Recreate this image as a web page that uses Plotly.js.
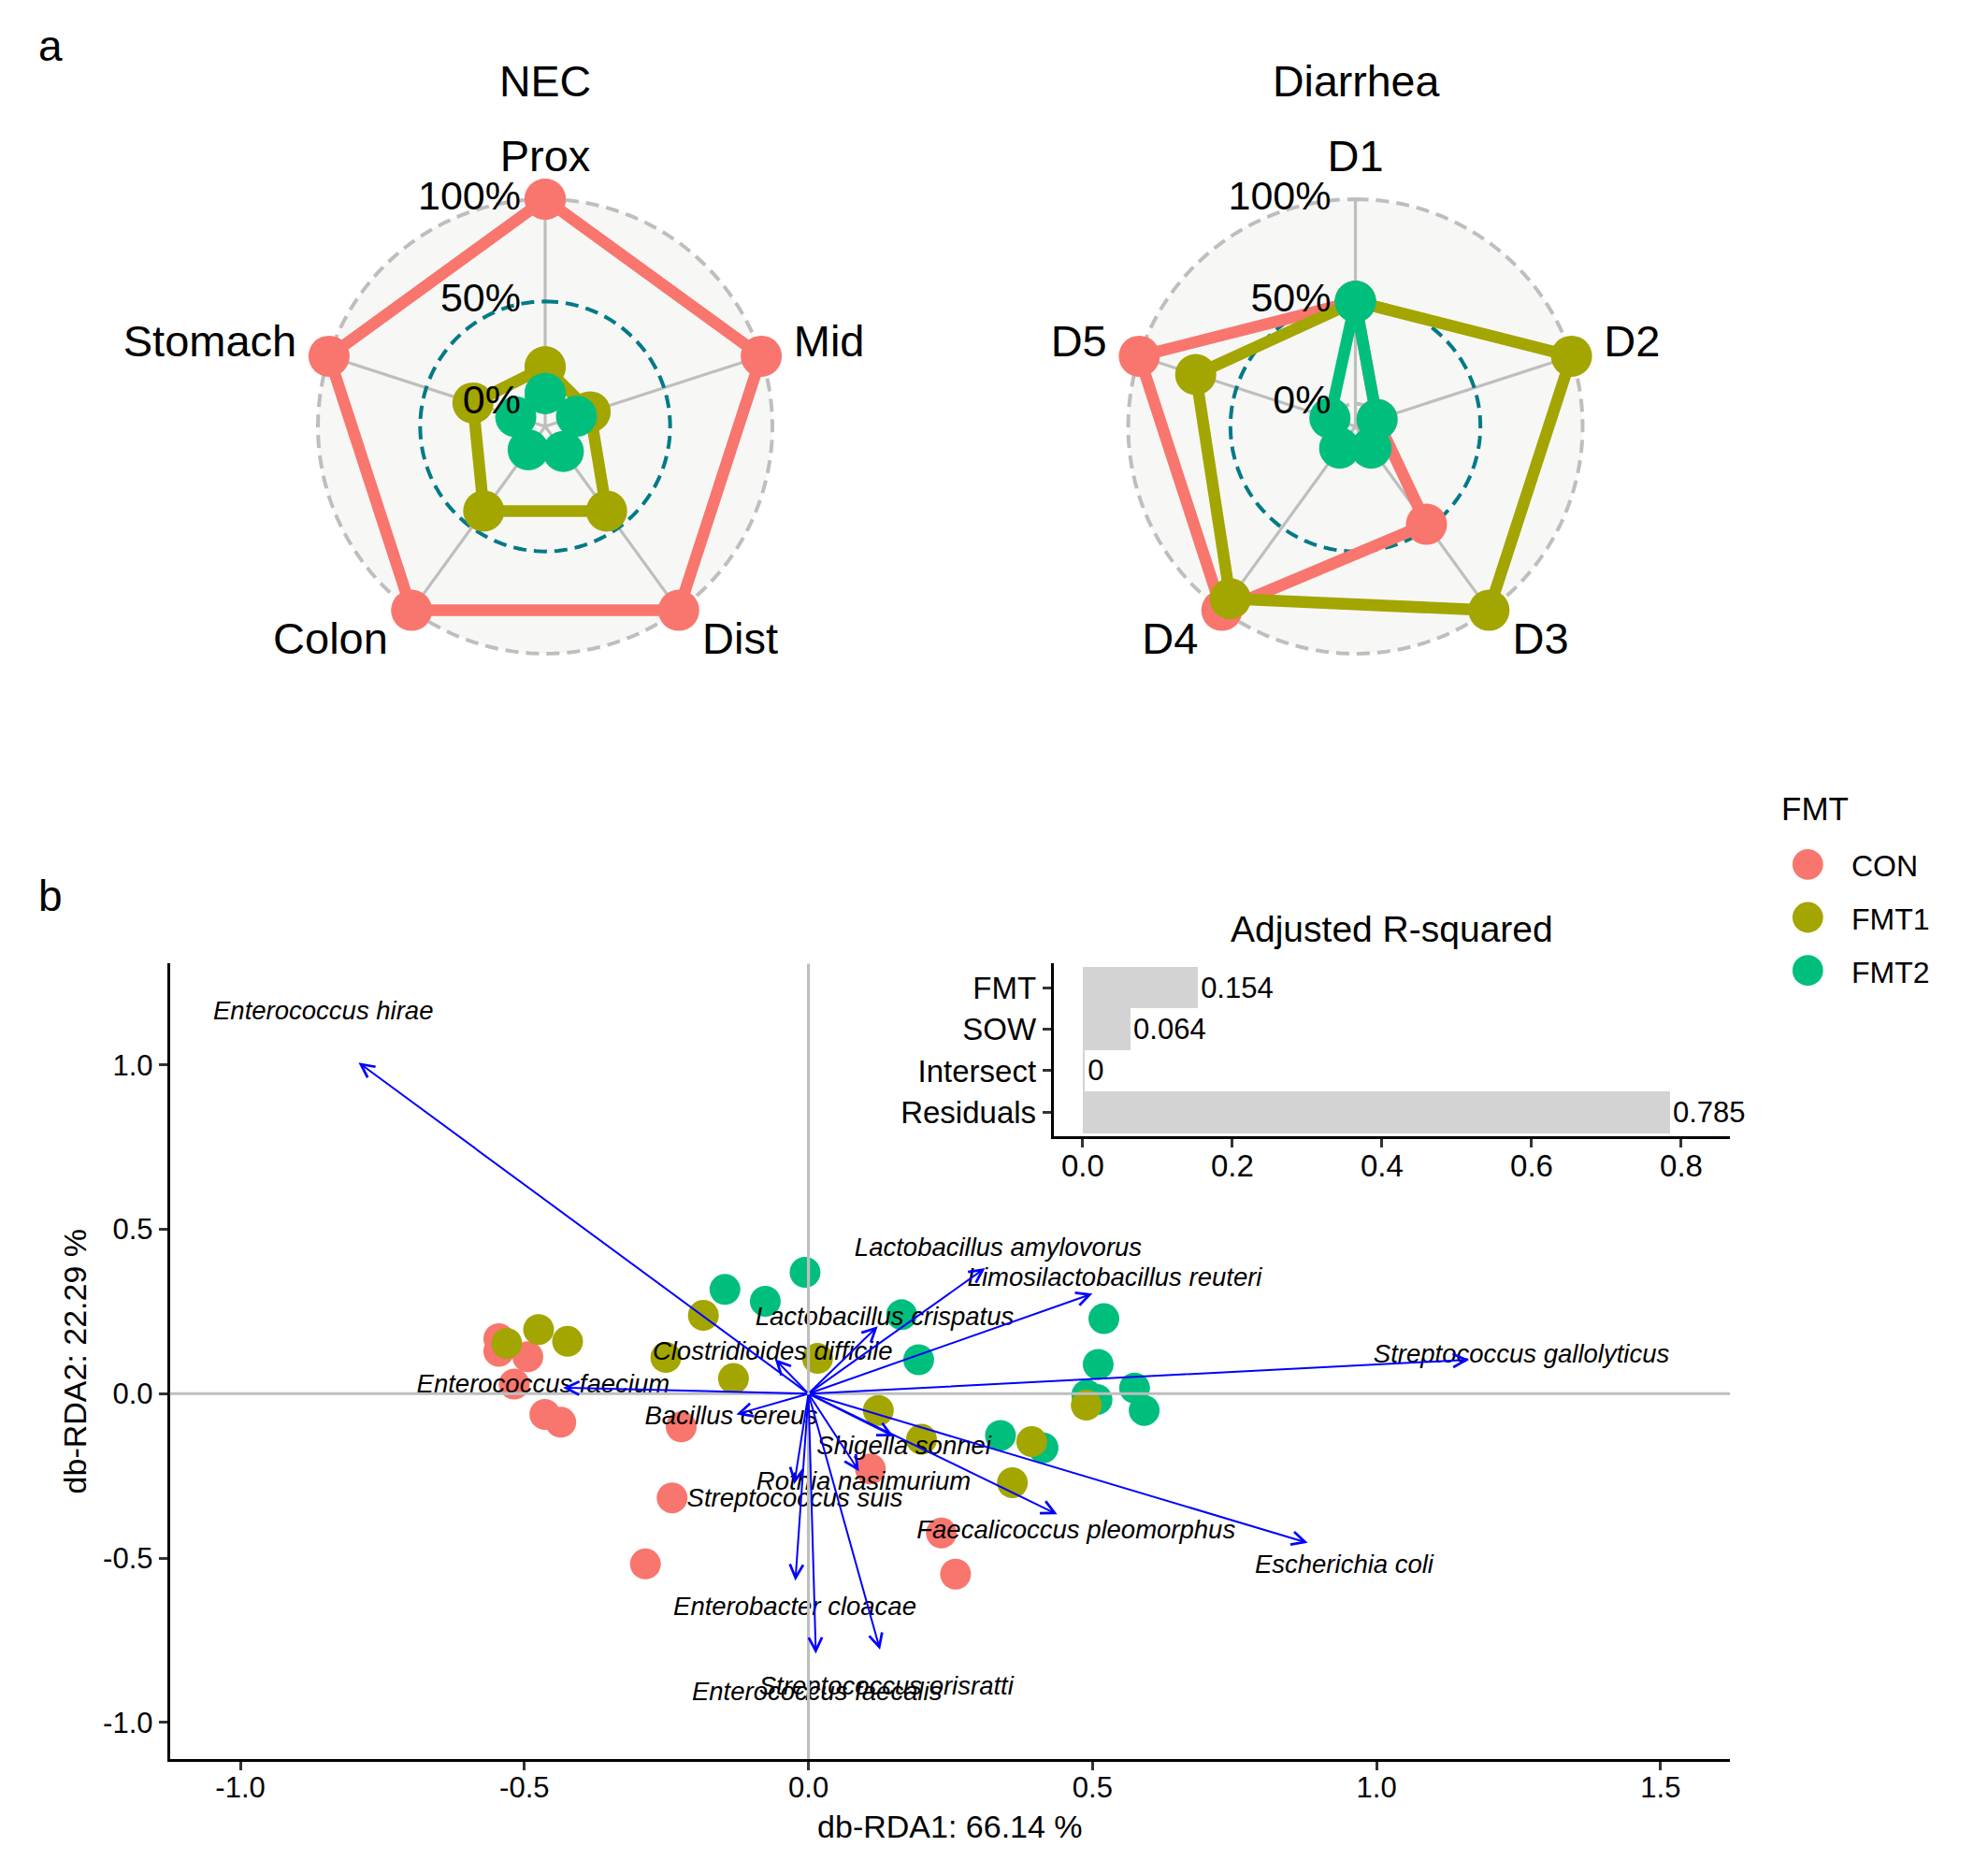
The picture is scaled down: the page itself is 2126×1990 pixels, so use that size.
<!DOCTYPE html>
<html>
<head>
<meta charset="utf-8">
<script src="https://cdn.plot.ly/plotly-3.0.1.min.js"></script>
<style>html,body{margin:0;padding:0;background:#fff;}</style>
</head>
<body>
<div id="chart" style="width:2126px;height:1990px;"></div>
<script>
// ---------------- DATA ----------------
const groups = ['CON', 'FMT1', 'FMT2'];
const groupColors = ['#F8766D', '#A3A500', '#00BF7D'];

// Radar: NEC
const necAxes = ['Prox', 'Mid', 'Dist', 'Colon', 'Stomach'];
const necCON  = [1.00, 1.00, 1.00, 1.00, 1.00];
const necFMT1 = [0.18, 0.12, 0.40, 0.40, 0.26];
const necFMT2 = [0.05, 0.05, 0.04, 0.03, 0.04];

// Radar: Diarrhea
const diaAxes = ['D1', 'D2', 'D3', 'D4', 'D5'];
const diaCON  = [0.50, 0.00, 0.48, 1.00, 1.00];
const diaFMT1 = [0.50, 1.00, 1.00, 0.93, 0.71];
const diaFMT2 = [0.50, 0.00, 0.02, 0.02, 0.02];

const gridLevels = [0, 0.5, 1];
const gridLabels = ['0%', '50%', '100%'];

// db-RDA sample scores
const conX  = [-0.545, -0.545, -0.494, -0.518, -0.464, -0.436, -0.224, -0.240, -0.287, 0.109, 0.234, 0.259];
const conY  = [ 0.167,  0.129,  0.112,  0.029, -0.063, -0.087, -0.101, -0.317, -0.518, -0.229, -0.424, -0.549];
const fmt1X = [-0.531, -0.475, -0.424, -0.185, -0.251, -0.132, 0.016, 0.123, 0.199, 0.393, 0.359, 0.489];
const fmt1Y = [ 0.153,  0.195,  0.159,  0.238,  0.110,  0.046, 0.107, -0.051, -0.139, -0.146, -0.271, -0.035];
const fmt2X = [-0.006, -0.147, -0.076, 0.164, 0.194, 0.520, 0.510, 0.574, 0.591, 0.490, 0.508, 0.338, 0.413];
const fmt2Y = [ 0.369,  0.317,  0.281, 0.240, 0.103, 0.228, 0.089, 0.017, -0.051, -0.004, -0.018, -0.127, -0.165];

// species vectors (arrow tips) and label positions
const species = ['Enterococcus hirae', 'Enterococcus faecium', 'Bacillus cereus', 'Clostridioides difficile',
  'Lactobacillus crispatus', 'Lactobacillus amylovorus', 'Limosilactobacillus reuteri', 'Streptococcus gallolyticus',
  'Escherichia coli', 'Faecalicoccus pleomorphus', 'Shigella sonnei', 'Rothia nasimurium',
  'Streptococcus suis', 'Enterobacter cloacae', 'Enterococcus faecalis', 'Streptococcus orisratti'];
const vecX = [-0.792, -0.432, -0.127, -0.059, 0.122, 0.311, 0.500, 1.163, 0.879, 0.438, 0.150, 0.089, -0.025, -0.023, 0.013, 0.126];
const vecY = [ 1.007,  0.018, -0.063,  0.105, 0.205, 0.382, 0.304, 0.103, -0.454, -0.367, -0.130, -0.236, -0.275, -0.569, -0.791, -0.779];
const labX = [-0.854, -0.467, -0.136, -0.063, 0.134, 0.334, 0.539, 1.255, 0.943, 0.471, 0.168, 0.097, -0.024, -0.024, 0.015, 0.137];
const labY = [ 1.158,  0.023, -0.073,  0.122, 0.228, 0.437, 0.347, 0.114, -0.526, -0.421, -0.165, -0.274, -0.324, -0.655, -0.914, -0.895];

const rdaXTicks = [-1, -0.5, 0, 0.5, 1, 1.5];
const rdaXTickText = ['-1.0', '-0.5', '0.0', '0.5', '1.0', '1.5'];
const rdaYTicks = [-1, -0.5, 0, 0.5, 1];
const rdaYTickText = ['-1.0', '-0.5', '0.0', '0.5', '1.0'];
const rdaXTitle = 'db-RDA1: 66.14 %';
const rdaYTitle = 'db-RDA2: 22.29 %';

// Adjusted R-squared inset
const r2Terms  = ['FMT', 'SOW', 'Intersect', 'Residuals'];
const r2Values = [0.154, 0.064, 0.003, 0.785];
const r2Labels = ['0.154', '0.064', '0', '0.785'];
const r2Ticks = [0, 0.2, 0.4, 0.6, 0.8];
const r2TickText = ['0.0', '0.2', '0.4', '0.6', '0.8'];

// ---------------- LAYOUT HELPERS ----------------
const W = 2126, H = 1990;
const FONT = 'Liberation Sans, Arial, Helvetica, sans-serif';
const px = x => x / W;
const py = y => 1 - y / H;

const radarR = 243;                  // pixel radius of the 100% circle
const radarCY = 456;
const necCX = 583, diaCX = 1449.5;
const centre = -1 / 9;               // ggradar centre offset
const rMax = 1.3;                    // extra room for the axis labels
const labelR = 1.15 * (1 - centre) + centre;
const polarPx = radarR * (rMax - centre) / (1 - centre);

function polarCfg(cx) {
  return {
    domain: {x: [px(cx - polarPx), px(cx + polarPx)], y: [py(radarCY + polarPx), py(radarCY - polarPx)]},
    bgcolor: 'rgba(0,0,0,0)',
    radialaxis: {range: [centre, rMax], showline: false, showticklabels: false, showgrid: false, ticks: ''},
    angularaxis: {rotation: 90, direction: 'clockwise', thetaunit: 'degrees',
      showticklabels: false, ticks: '', showline: false, showgrid: false}
  };
}

const traces = [];

function radarTraces(subplot, axes, series) {
  const n = axes.length;
  const th = axes.map((_, i) => i * 360 / n);
  const circTh = [];
  for (let a = 0; a <= 360; a += 2) circTh.push(a);
  // background disc
  traces.push({type: 'scatterpolar', subplot, mode: 'lines', r: circTh.map(() => 1), theta: circTh,
    fill: 'toself', fillcolor: '#F7F7F6', line: {width: 0, color: 'rgba(0,0,0,0)'}, hoverinfo: 'skip', showlegend: false});
  // spokes
  const spR = [], spT = [];
  th.forEach(t => { spR.push(centre, 1, null); spT.push(t, t, null); });
  traces.push({type: 'scatterpolar', subplot, mode: 'lines', r: spR, theta: spT,
    line: {color: '#BEBEBE', width: 3.2}, hoverinfo: 'skip', showlegend: false});
  // grid circles
  const gridCols = ['#BEBEBE', '#007A87', '#BEBEBE'];
  gridLevels.forEach((lv, k) => {
    traces.push({type: 'scatterpolar', subplot, mode: 'lines', r: circTh.map(() => lv), theta: circTh,
      line: {color: gridCols[k], width: 4, dash: '14px,8px'}, hoverinfo: 'skip', showlegend: false});
  });
  series.forEach((vals, g) => {
    traces.push({type: 'scatterpolar', subplot, mode: 'lines+markers',
      r: vals.concat([vals[0]]), theta: th.concat([th[0]]),
      line: {color: groupColors[g], width: 12.5},
      marker: {color: groupColors[g], size: 44},
      name: groups[g], showlegend: false, hoverinfo: 'skip', cliponaxis: false});
  });
  // axis labels (top label nudged up, bottom labels nudged down as in the reference)
  const pos = th.map(t => t === 0 ? 'middle center' : (t < 180 ? 'middle right' : 'middle left'));
  const rr = th.map(t => t === 0 ? labelR + 0.025 : (Math.abs(t - 180) < 90 ? labelR + 0.03 : labelR));
  traces.push({type: 'scatterpolar', subplot, mode: 'text', r: rr, theta: th,
    text: axes, textposition: pos, textfont: {family: FONT, size: 47, color: '#000'},
    cliponaxis: false, showlegend: false, hoverinfo: 'skip'});
  // percentage labels
  traces.push({type: 'scatterpolar', subplot, mode: 'markers+text', r: gridLevels, theta: gridLevels.map(() => 0),
    text: gridLabels, textposition: 'middle left', marker: {size: 40, opacity: 0},
    textfont: {family: FONT, size: 43, color: '#000'}, cliponaxis: false, showlegend: false, hoverinfo: 'skip'});
}

radarTraces('polar', necAxes, [necCON, necFMT1, necFMT2]);
radarTraces('polar2', diaAxes, [diaCON, diaFMT1, diaFMT2]);

// db-RDA points
const pts = [[conX, conY, 0], [fmt2X, fmt2Y, 2], [fmt1X, fmt1Y, 1]];
pts.forEach(([xs, ys, g]) => {
  traces.push({type: 'scatter', mode: 'markers', x: xs, y: ys, xaxis: 'x', yaxis: 'y',
    marker: {color: groupColors[g], size: 33, line: {width: 0}}, name: groups[g], showlegend: false, cliponaxis: false});
});

// species labels
traces.push({type: 'scatter', mode: 'text', x: labX, y: labY, text: species, xaxis: 'x', yaxis: 'y',
  textposition: 'middle center', textfont: {family: FONT, size: 27.5, color: '#000', style: 'italic'},
  showlegend: false, hoverinfo: 'skip', cliponaxis: false});

// inset bars
traces.push({type: 'bar', orientation: 'h', x: r2Values, y: r2Terms, xaxis: 'x2', yaxis: 'y2',
  marker: {color: '#D3D3D3', line: {width: 0}}, width: 1,
  text: r2Labels, textposition: 'outside', textfont: {family: FONT, size: 31, color: '#000'},
  cliponaxis: false, constraintext: 'none', showlegend: false, hoverinfo: 'skip'});

// arrows
const annotations = species.map((s, i) => ({
  x: vecX[i], y: vecY[i], ax: 0, ay: 0, xref: 'x', yref: 'y', axref: 'x', ayref: 'y',
  text: '', showarrow: true, arrowhead: 5, arrowsize: 1.4, arrowwidth: 2, arrowcolor: '#0000FF', standoff: 0
}));

function txt(text, x, y, size, opts) {
  return Object.assign({text, x: px(x), y: py(y), xref: 'paper', yref: 'paper', showarrow: false,
    xanchor: 'center', yanchor: 'middle', font: {family: FONT, size, color: '#000'}}, opts || {});
}
annotations.push(txt('a', 54, 49, 46));
annotations.push(txt('b', 54, 958, 46));
annotations.push(txt('NEC', necCX, 87, 46.5));
annotations.push(txt('Diarrhea', diaCX, 87, 46.5));
annotations.push(txt('Adjusted R-squared', 1488, 993, 39));

// legend (manual, large keys)
const legX = 1933.3, legY0 = 924.3, legStep = 56.7, legRad = 16.4;
annotations.push(txt('FMT', 1903, 864.5, 35, {xanchor: 'left'}));
const shapes = [];
groups.forEach((g, i) => {
  const cy = legY0 + i * legStep;
  shapes.push({type: 'circle', xref: 'paper', yref: 'paper',
    x0: px(legX - legRad), x1: px(legX + legRad), y0: py(cy + legRad), y1: py(cy - legRad),
    fillcolor: groupColors[i], line: {width: 0}, layer: 'above'});
  annotations.push(txt(g, 1978, cy + 2, 32, {xanchor: 'left'}));
});

// reference lines at 0 (drawn above points)
shapes.push({type: 'line', xref: 'x domain', yref: 'y', x0: 0, x1: 1, y0: 0, y1: 0, line: {color: '#BEBEBE', width: 3.2}, layer: 'above'});
shapes.push({type: 'line', xref: 'x', yref: 'y domain', x0: 0, x1: 0, y0: 0, y1: 1, line: {color: '#BEBEBE', width: 3.2}, layer: 'above'});

const axisCommon = {showline: true, linecolor: '#000', linewidth: 3, ticks: 'outside', ticklen: 9, tickwidth: 3,
  tickcolor: '#333333', showgrid: false, zeroline: false, automargin: false, fixedrange: true};

const layout = {
  width: W, height: H, margin: {l: 0, r: 0, t: 0, b: 0},
  paper_bgcolor: '#FFFFFF', plot_bgcolor: 'rgba(0,0,0,0)',
  font: {family: FONT, color: '#000'},
  showlegend: false,
  polar: polarCfg(necCX),
  polar2: polarCfg(diaCX),
  xaxis: Object.assign({}, axisCommon, {
    domain: [px(181.7), px(1850)], anchor: 'y', range: [-1.124, 1.622],
    tickmode: 'array', tickvals: rdaXTicks, ticktext: rdaXTickText, tickfont: {size: 31, color: '#000'},
    ticklabelstandoff: -8,
    title: {text: rdaXTitle, font: {size: 34, color: '#000'}, standoff: 13}
  }),
  yaxis: Object.assign({}, axisCommon, {
    domain: [py(1881), py(1030.4)], anchor: 'x', range: [-1.1115, 1.308],
    tickmode: 'array', tickvals: rdaYTicks, ticktext: rdaYTickText, tickfont: {size: 31, color: '#000'},
    title: {text: rdaYTitle, font: {size: 34, color: '#000'}, standoff: 8}
  }),
  xaxis2: Object.assign({}, axisCommon, {
    domain: [px(1126.7), px(1850)], anchor: 'y2', range: [-0.039, 0.865],
    tickmode: 'array', tickvals: r2Ticks, ticktext: r2TickText, tickfont: {size: 33, color: '#000'},
    ticklabelstandoff: -8
  }),
  yaxis2: Object.assign({}, axisCommon, {
    domain: [py(1214.5), py(1030.4)], anchor: 'x2', type: 'category',
    categoryorder: 'array', categoryarray: r2Terms.slice().reverse(), range: [-0.565, 3.579],
    tickfont: {size: 33, color: '#000'}
  }),
  bargap: 0,
  annotations: annotations,
  shapes: shapes
};

Plotly.newPlot('chart', traces, layout, {staticPlot: true, displayModeBar: false});
</script>
</body>
</html>
